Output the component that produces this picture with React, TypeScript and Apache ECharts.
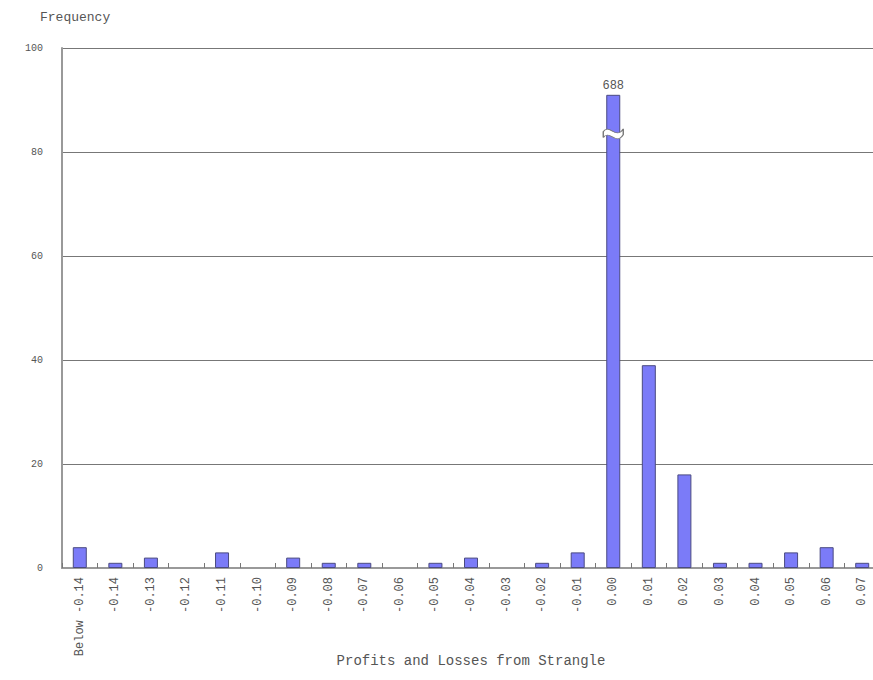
import React, { useEffect, useRef } from "react";
import * as echarts from "echarts";

const categories = [
  "Below -0.14", "-0.14", "-0.13", "-0.12", "-0.11", "-0.10", "-0.09", "-0.08",
  "-0.07", "-0.06", "-0.05", "-0.04", "-0.03", "-0.02", "-0.01", "0.00",
  "0.01", "0.02", "0.03", "0.04", "0.05", "0.06", "0.07",
];
// Displayed heights (the 0.00 bar is truncated, real count 688)
const frequencies = [4, 1, 2, 0, 3, 0, 2, 1, 1, 0, 1, 2, 0, 1, 3, 91, 39, 18, 1, 1, 3, 4, 1];
const truncatedCategory = "0.00";
const truncatedActual = "688";
const breakAt = 83.5;
const yTicks = { min: 0, max: 100, interval: 20 };

const FONT = "'Liberation Mono', 'DejaVu Sans Mono', monospace";

export default function App() {
  const ref = useRef<HTMLDivElement>(null);
  useEffect(() => {
    document.body.style.margin = "0";
    const chart = echarts.init(ref.current!, null, { renderer: "svg" });
    const data = frequencies.map((v, i) =>
      categories[i] === truncatedCategory
        ? {
            value: v,
            label: {
              show: true,
              position: "top",
              formatter: truncatedActual,
              color: "#555",
              fontFamily: FONT,
              fontSize: 12,
              distance: 3,
            },
          }
        : v === 0
        ? "-"
        : v
    );
    chart.setOption({
      animation: false,
      backgroundColor: "#ffffff",
      grid: { left: 62, top: 48, width: 818, height: 520, outerBoundsMode: "none", containLabel: false },
      xAxis: {
        type: "category",
        data: categories,
        name: "Profits and Losses from Strangle",
        nameLocation: "middle",
        nameGap: 86,
        nameMoveOverlap: false,
        nameTextStyle: { color: "#555", fontFamily: FONT, fontSize: 14 },
        axisLine: { lineStyle: { color: "#999", width: 2 } },
        axisTick: { show: true, inside: true, length: 5, lineStyle: { color: "#777" } },
        axisLabel: {
          rotate: 90,
          interval: 0,
          color: "#555",
          fontFamily: FONT,
          fontSize: 12,
          margin: 9,
        },
      },
      yAxis: {
        type: "value",
        min: yTicks.min,
        max: yTicks.max,
        interval: yTicks.interval,
        name: "Frequency",
        nameLocation: "end",
        nameGap: 24,
        nameTextStyle: {
          color: "#555",
          fontFamily: FONT,
          fontSize: 13,
          align: "left",
          padding: [0, 0, 0, -22],
        },
        axisLine: { show: true, lineStyle: { color: "#999", width: 2 } },
        axisTick: { show: false },
        axisLabel: { color: "#555", fontFamily: FONT, fontSize: 10, margin: 19 },
        splitLine: { lineStyle: { color: "#777", width: 1 } },
      },
      series: [
        {
          type: "bar",
          data,
          barWidth: 14,
          itemStyle: { color: "#7b7bf8", borderColor: "#4a4a80", borderWidth: 1 },
          markPoint: {
            silent: true,
            symbol: "path://M0,5 C5,-1 10,11 16,3 L16,7 C10,15 5,3 0,9 Z",
            symbolSize: [20, 10],
            symbolKeepAspect: false,
            itemStyle: { color: "#ffffff", borderColor: "#777", borderWidth: 1 },
            label: { show: false },
            data: [{ coord: [truncatedCategory, breakAt] }],
          },
        },
      ],
    });
    return () => chart.dispose();
  }, []);
  return <div ref={ref} style={{ width: 873, height: 680, overflow: "hidden" }} />;
}
